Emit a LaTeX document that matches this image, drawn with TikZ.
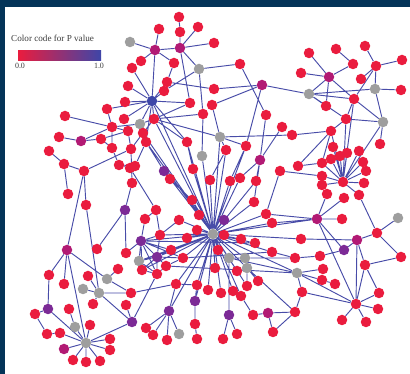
\documentclass[tikz,border=0pt]{standalone}
\usepackage{fontspec}
\setmainfont{Liberation Serif}
\usepackage{tikz}
\usetikzlibrary{calc}
\definecolor{figframe}{RGB}{4,52,88}
\definecolor{figedge}{RGB}{72,76,168}
\definecolor{figred}{RGB}{234,28,62}
\definecolor{figgrey}{RGB}{158,158,158}
\definecolor{figmag}{RGB}{178,26,116}
\definecolor{figpurp}{RGB}{124,42,150}
\definecolor{figblue}{RGB}{62,70,168}
\definecolor{figtext}{RGB}{60,60,60}
\pgfdeclarelayer{bg}
\pgfdeclarelayer{links}
\pgfsetlayers{bg,links,main}
\tikzset{
  nd/.style  ={circle, inner sep=0pt, minimum size=0.315cm},
  nr/.style  ={nd, fill=figred},
  ng/.style  ={nd, fill=figgrey},
  nm/.style  ={nd, fill=figmag},
  np/.style  ={nd, fill=figpurp},
  nb/.style  ={nd, fill=figblue},
  edg/.style ={draw=figedge, line width=0.8pt},
  lab/.style ={font=\fontsize{7.8}{9}\selectfont, text=figtext, inner sep=0pt},
  labs/.style={font=\fontsize{6.8}{8}\selectfont, text=figtext, inner sep=0pt},
}

\begin{document}
\begin{tikzpicture}[x=0.03cm,y=-0.03cm]
  \begin{pgfonlayer}{bg}
  \fill[figframe] (0,0) rectangle (410,374);
  \fill[white] (5,7) rectangle (410,374);
  \end{pgfonlayer}
  \useasboundingbox (0,0) rectangle (410,374);
  % legend
  \node[lab,anchor=west] (ttl) at (11,38) {Color code for P value};
  \shade[left color=figred, middle color=figmag, right color=figblue] (18,51) rectangle (101,61);
  \node[labs] (lo) at (20,66) {0.0};
  \node[labs] (hi) at (99,66) {1.0};
  % top left
  \node[ng] (a1) at (130,42) {};
  \node[nr] (a2) at (159,29) {};
  \node[nr] (a3) at (179,17) {};
  \node[nr] (a4) at (180,32) {};
  \node[nr] (a5) at (198,27) {};
  \node[nm] (a6) at (155,50) {};
  \node[nm] (a7) at (180,48) {};
  \node[nr] (a8) at (141,61) {};
  \node[nr] (a9) at (174,63) {};
  \node[nr] (a10) at (132,68) {};
  \node[ng] (a11) at (199,69) {};
  \node[nr] (a12) at (167,82) {};
  \node[nr] (a13) at (164,91) {};
  \node[nr] (a14) at (128,86) {};
  \node[nr] (a15) at (125,102) {};
  \node[nb] (a16) at (152,101) {};
  \node[nr] (a17) at (190,103) {};
  \node[nr] (a18) at (203,114) {};
  \node[nr] (a19) at (107,109) {};
  \node[nr] (a20) at (124,119) {};
  \node[nr] (a21) at (154,119) {};
  \node[ng] (a22) at (140,124) {};
  \node[nr] (a23) at (65,116) {};
  \node[nr] (a24) at (112,127) {};
  \node[nr] (a25) at (128,131) {};
  \node[nr] (a26) at (143,133) {};
  \node[nr] (a27) at (146,142) {};
  \node[nr] (a28) at (59,137) {};
  \node[nm] (a29) at (81,141) {};
  \node[nr] (a30) at (101,139) {};
  \node[nr] (a31) at (187,142) {};
  \node[ng] (a32) at (202,156) {};
  \node[nr] (a33) at (49,151) {};
  \node[nr] (a34) at (112,148) {};
  \node[nr] (a35) at (131,149) {};
  \node[nr] (a36) at (64,164) {};
  \node[nr] (a37) at (84,171) {};
  \node[nr] (a38) at (119,165) {};
  \node[nr] (a39) at (135,166) {};
  \node[nr] (a40) at (130,168) {};
  \node[np] (a41) at (164,171) {};
  \node[nr] (a42) at (170,179) {};
  \node[nr] (a43) at (193,169) {};
  \node[nr] (a44) at (132,183) {};
  % top middle
  \node[nr] (b1) at (214,43) {};
  \node[nr] (b2) at (240,64) {};
  \node[nr] (b3) at (214,89) {};
  \node[nm] (b4) at (262,85) {};
  \node[nr] (b5) at (212,105) {};
  \node[nr] (b6) at (266,115) {};
  \node[ng] (b7) at (220,137) {};
  \node[nr] (b8) at (282,127) {};
  \node[nr] (b9) at (292,135) {};
  \node[nr] (b10) at (246,146) {};
  \node[nr] (b11) at (226,150) {};
  \node[nm] (b12) at (260,160) {};
  \node[nr] (b13) at (280,171) {};
  \node[nr] (b14) at (298,166) {};
  \node[nr] (b15) at (210,180) {};
  \node[nr] (b16) at (230,181) {};
  \node[nr] (b17) at (240,178) {};
  \node[nr] (b18) at (256,181) {};
  % top right
  \node[nr] (c1) at (309,53) {};
  \node[nr] (c2) at (336,49) {};
  \node[nr] (c3) at (365,46) {};
  \node[nr] (c4) at (402,60) {};
  \node[nr] (c5) at (353,64) {};
  \node[nr] (c6) at (376,66) {};
  \node[nr] (c7) at (301,73) {};
  \node[nm] (c8) at (329,77) {};
  \node[nr] (c9) at (361,79) {};
  \node[ng] (c10) at (309,94) {};
  \node[ng] (c11) at (375,89) {};
  \node[nr] (c12) at (401,90) {};
  \node[nr] (c13) at (354,99) {};
  \node[nr] (c14) at (326,106) {};
  \node[nr] (c15) at (346,119) {};
  \node[ng] (c16) at (383,122) {};
  \node[nr] (c17) at (331,131) {};
  \node[nr] (c18) at (380,144) {};
  \node[nr] (c19) at (333,147) {};
  \node[nr] (c20) at (359,151) {};
  \node[nr] (c21) at (347,153) {};
  \node[nr] (c22) at (340,156) {};
  \node[nr] (c23) at (331,159) {};
  \node[nr] (c24) at (363,162) {};
  \node[nr] (c25) at (322,163) {};
  \node[nr] (c26) at (366,171) {};
  \node[nr] (c27) at (322,176) {};
  \node[nr] (c28) at (343,182) {};
  \node[nr] (c29) at (364,183) {};
  \node[nr] (c30) at (322,185) {};
  \node[nr] (c31) at (327,194) {};
  \node[nr] (c32) at (359,195) {};
  \node[nr] (c33) at (344,198) {};
  % middle left
  \node[nr] (d1) at (68,194) {};
  \node[nr] (d2) at (86,205) {};
  \node[np] (d3) at (125,210) {};
  \node[nr] (d4) at (156,210) {};
  \node[nr] (d5) at (145,219) {};
  \node[nr] (d6) at (179,220) {};
  \node[nr] (d7) at (192,200) {};
  \node[nr] (d8) at (199,215) {};
  \node[nr] (d9) at (160,235) {};
  \node[np] (d10) at (141,241) {};
  \node[nr] (d11) at (187,238) {};
  \node[nr] (d12) at (197,230) {};
  \node[nm] (d13) at (67,250) {};
  \node[nr] (d14) at (97,249) {};
  \node[nr] (d15) at (126,253) {};
  \node[nr] (d16) at (171,250) {};
  \node[np] (d17) at (157,257) {};
  \node[nr] (d18) at (183,258) {};
  \node[ng] (d19) at (139,261) {};
  \node[nr] (d20) at (166,266) {};
  \node[nr] (d21) at (142,270) {};
  \node[nr] (d22) at (157,274) {};
  \node[nr] (d23) at (118,269) {};
  \node[nr] (d24) at (49,275) {};
  \node[nr] (d25) at (88,276) {};
  \node[ng] (d26) at (107,279) {};
  \node[nr] (d27) at (64,284) {};
  \node[ng] (d28) at (83,289) {};
  \node[ng] (d29) at (99,293) {};
  \node[nr] (d30) at (131,293) {};
  \node[nr] (d31) at (176,284) {};
  \node[nr] (d32) at (197,285) {};
  \node[nr] (d33) at (93,304) {};
  \node[nr] (d34) at (126,305) {};
  \node[np] (d35) at (48,309) {};
  \node[nr] (d36) at (69,309) {};
  \node[np] (d37) at (195,301) {};
  \node[nr] (d38) at (35,314) {};
  \node[np] (d39) at (169,311) {};
  \node[np] (d40) at (132,322) {};
  \node[ng] (d41) at (75,327) {};
  \node[nr] (d42) at (90,325) {};
  \node[nr] (d43) at (195,324) {};
  \node[nr] (d44) at (146,328) {};
  \node[nr] (d45) at (47,334) {};
  \node[nr] (d46) at (60,333) {};
  \node[ng] (d47) at (179,334) {};
  \node[nr] (d48) at (153,335) {};
  \node[ng] (d49) at (86,343) {};
  \node[nr] (d50) at (110,339) {};
  \node[nr] (d51) at (197,339) {};
  \node[nr] (d52) at (167,340) {};
  \node[nm] (d53) at (64,349) {};
  \node[nr] (d54) at (110,350) {};
  \node[nr] (d55) at (73,360) {};
  \node[nr] (d56) at (86,362) {};
  \node[nr] (d57) at (100,361) {};
  % middle right
  \node[nr] (e1) at (254,202) {};
  \node[nr] (e2) at (266,214) {};
  \node[nm] (e3) at (317,219) {};
  \node[nr] (e4) at (342,219) {};
  \node[ng] (e5) at (398,218) {};
  \node[np] (e6) at (224,220) {};
  \node[nr] (e7) at (272,223) {};
  \node[ng] (e8) at (213,234) {};
  \node[nr] (e9) at (224,235) {};
  \node[nr] (e10) at (241,239) {};
  \node[nr] (e11) at (255,243) {};
  \node[nr] (e12) at (301,239) {};
  \node[nm] (e13) at (357,240) {};
  \node[nr] (e14) at (377,233) {};
  \node[nr] (e15) at (218,250) {};
  \node[np] (e16) at (344,250) {};
  \node[nr] (e17) at (272,252) {};
  \node[ng] (e18) at (229,258) {};
  \node[ng] (e19) at (245,258) {};
  \node[nr] (e20) at (295,258) {};
  \node[nr] (e21) at (320,256) {};
  \node[nr] (e22) at (401,257) {};
  \node[nr] (e23) at (365,265) {};
  \node[ng] (e24) at (247,268) {};
  \node[nr] (e25) at (215,268) {};
  \node[nr] (e26) at (237,271) {};
  \node[nr] (e27) at (258,281) {};
  \node[ng] (e28) at (297,273) {};
  \node[nr] (e29) at (323,269) {};
  \node[nr] (e30) at (322,280) {};
  \node[nr] (e31) at (335,284) {};
  \node[nr] (e32) at (208,290) {};
  \node[nr] (e33) at (221,293) {};
  \node[nr] (e34) at (233,291) {};
  \node[nr] (e35) at (247,286) {};
  \node[nr] (e36) at (241,296) {};
  \node[nr] (e37) at (302,292) {};
  \node[nr] (e38) at (379,293) {};
  \node[nr] (e39) at (356,304) {};
  \node[nr] (e40) at (378,309) {};
  \node[nr] (e41) at (253,315) {};
  \node[nm] (e42) at (268,313) {};
  \node[nr] (e43) at (295,312) {};
  \node[np] (e44) at (229,315) {};
  \node[nr] (e45) at (342,320) {};
  \node[nr] (e46) at (366,322) {};
  \node[nr] (e47) at (273,332) {};
  \node[nr] (e48) at (237,334) {};
  \node[nr] (e49) at (223,339) {};
  % links
  \begin{pgfonlayer}{links}
  \draw[edg] (a1)--(a6) (a2)--(a6) (a3)--(a4) (a4)--(a7) (a5)--(a7) (a6)--(a7)
    (a6)--(a16) (a6)--(a8) (a6)--(a9) (a7)--(b1) (a7)--(a11) (a7)--(a17)
    (a10)--(a16) (a14)--(a16) (a15)--(a16) (a9)--(a12) (a12)--(a16) (a12)--(b3)
    (a13)--(a16) (a13)--(a11) (a11)--(b2) (a11)--(a18)
    (a16)--(a21) (a16)--(a20) (a16)--(a22) (a16)--(a17) (a16)--(a27) (a16)--(a31)
    (a16)--(e8) (a16)--(a19)
    (a17)--(a21) (a18)--(a21) (a21)--(a22) (a21)--(a26) (a21)--(b7) (a21)--(a31) (a21)--(e8)
    (a19)--(a24) (a23)--(a24) (a24)--(a22) (a24)--(a29) (a24)--(a34) (a24)--(a25)
    (a28)--(a29) (a29)--(a30) (a30)--(a25) (a30)--(a34)
    (a33)--(a36) (a36)--(a37) (a37)--(a35) (a35)--(a25) (a35)--(a26)
    (a38)--(a39) (a38)--(a40) (a38)--(a34) (a40)--(d4) (a39)--(a27)
    (a26)--(a22) (a26)--(a27) (a27)--(a41) (a41)--(a42) (a41)--(e8) (a42)--(d7)
    (a43)--(e8) (a43)--(a31) (a32)--(a18) (a32)--(e8) (a31)--(e8) (a26)--(e8) (a27)--(e8)
    (a44)--(d3) (a44)--(a35) (a36)--(d1) (a37)--(d13) (a37)--(d2);
  \draw[edg] (b2)--(b6) (b3)--(b4) (b5)--(b4) (b4)--(c10) (b4)--(b10) (b5)--(b7)
    (b6)--(b12) (b8)--(b12) (b7)--(b9) (b9)--(c17) (b7)--(b10) (b7)--(b11) (b7)--(e8)
    (b10)--(b16) (b10)--(e8) (b11)--(e8) (b11)--(b15) (b12)--(b18) (b12)--(e1)
    (b13)--(c27) (b14)--(c25) (b14)--(c17) (b15)--(e8) (b16)--(e8) (b17)--(e8)
    (b18)--(e8) (b13)--(e2) (b17)--(b12);
  \draw[edg] (c1)--(c8) (c7)--(c8) (c5)--(c8) (c2)--(c5) (c3)--(c6) (c6)--(c4)
    (c6)--(c9) (c8)--(c10) (c8)--(c14) (c8)--(c13) (c10)--(c13) (c10)--(c11)
    (c11)--(c12) (c10)--(c14) (c6)--(c11) (c6)--(c13) (c13)--(c16) (c15)--(c16)
    (c11)--(c16) (c16)--(c18) (c13)--(c15) (c15)--(c17) (c15)--(c28) (c13)--(c28)
    (c16)--(c28) (c17)--(c28) (c17)--(c25) (c10)--(c15)
    (c28)--(c19) (c28)--(c20) (c28)--(c21) (c28)--(c22) (c28)--(c23) (c28)--(c24)
    (c28)--(c25) (c28)--(c26) (c28)--(c27) (c28)--(c29) (c28)--(c30) (c28)--(c32);
  \draw[edg] (d2)--(d29) (d3)--(d14) (d3)--(d15) (d4)--(d5) (d4)--(d9) (d5)--(d10)
    (d6)--(d9) (d6)--(e8) (d7)--(e8) (d8)--(e8) (d7)--(d8)
    (d13)--(d24) (d13)--(d27) (d13)--(d26) (d13)--(d49) (d24)--(d35) (d26)--(d23)
    (d26)--(d30) (d25)--(d29) (d28)--(d29) (d29)--(d30) (d29)--(d33) (d29)--(d40)
    (d34)--(d40) (d30)--(d31) (d31)--(d32) (d31)--(e8) (d32)--(e8)
    (d35)--(d38) (d38)--(d45) (d45)--(d46) (d46)--(d49) (d35)--(d49) (d36)--(d41)
    (d41)--(d49) (d42)--(d49) (d50)--(d49) (d53)--(d49) (d54)--(d49) (d55)--(d49)
    (d56)--(d49) (d57)--(d49) (d49)--(d40) (d40)--(d22)
    (d10)--(d17) (d10)--(d19) (d10)--(d21) (d10)--(d22) (d10)--(d16) (d10)--(d18)
    (d10)--(d9) (d17)--(d19) (d17)--(d21) (d17)--(d22) (d17)--(d20) (d17)--(d16)
    (d17)--(d18) (d19)--(d21) (d19)--(d22) (d21)--(d22) (d20)--(d22) (d19)--(d16)
    (d9)--(d17) (d18)--(d20) (d15)--(d10)
    (d10)--(e8) (d17)--(e8) (d19)--(e8) (d16)--(e8) (d18)--(e8) (d11)--(e8)
    (d12)--(e8) (d9)--(e8) (d21)--(e8)
    (d37)--(d43) (d43)--(d51) (d37)--(e8) (d37)--(d32)
    (d39)--(d44) (d39)--(d48) (d39)--(d52) (d39)--(d47) (d39)--(e8) (d39)--(d31);
  \draw[edg] (e1)--(e8) (e2)--(e8) (e2)--(e3) (e7)--(e3) (e7)--(e8) (e6)--(e8)
    (e9)--(e8) (e10)--(e8) (e11)--(e8) (e12)--(e8) (e12)--(e13) (e3)--(e8)
    (e3)--(e4) (e3)--(c31) (e3)--(c33) (e3)--(e16) (e3)--(e39) (e13)--(e14)
    (e13)--(e16) (e13)--(e39) (e13)--(e23) (e14)--(e5) (e14)--(e22) (e22)--(e23)
    (e23)--(e39) (e23)--(e38) (e14)--(c32)
    (e16)--(e21) (e20)--(e21) (e17)--(e20) (e17)--(e8) (e18)--(e8) (e19)--(e8)
    (e18)--(e19) (e19)--(e20) (e18)--(e28) (e15)--(e8) (e25)--(e8) (e26)--(e8)
    (e24)--(e8) (e24)--(e27) (e24)--(e43) (e28)--(e29) (e28)--(e30) (e30)--(e31)
    (e28)--(e8) (e28)--(e39) (e37)--(e28) (e37)--(e39) (e37)--(e43) (e43)--(e42)
    (e42)--(e47) (e43)--(e47) (e42)--(e41) (e41)--(e36) (e36)--(e8) (e32)--(e8)
    (e33)--(e8) (e34)--(e8) (e35)--(e8) (e44)--(e48) (e44)--(e49) (e44)--(e18)
    (e39)--(e38) (e39)--(e40) (e39)--(e45) (e39)--(e46) (e35)--(e24)
    (d10)--(e11) (d18)--(e17) (d20)--(e28);
  \end{pgfonlayer}
\end{tikzpicture}
\end{document}
